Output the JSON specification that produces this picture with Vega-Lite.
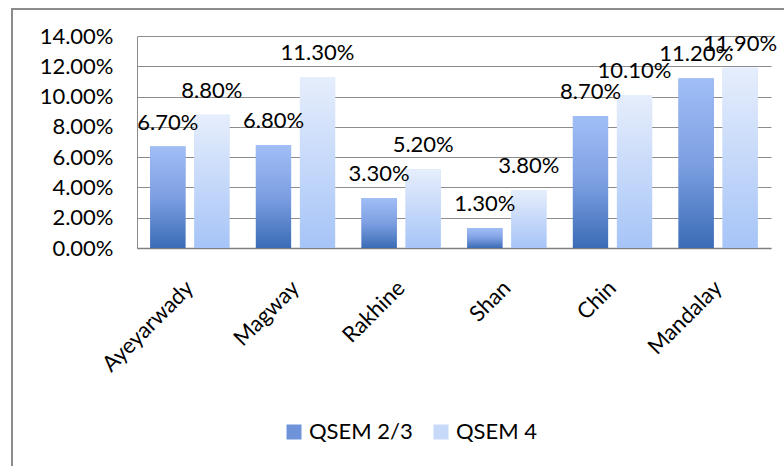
{
  "$schema": "https://vega.github.io/schema/vega-lite/v6.json",
  "width": 774,
  "height": 460,
  "autosize": {"type": "none"},
  "padding": {"left": 12, "top": 9, "right": 0, "bottom": 0},
  "background": "white",
  "config": {
    "view": {"stroke": "#8c8c8c", "strokeWidth": 2},
    "font": "Lato",
    "axis": {"labelFont": "Lato", "labelColor": "#000000", "labelFontSize": 22, "title": null},
    "legend": {"labelFont": "Lato", "labelFontSize": 22, "labelColor": "#000000"}
  },
  "data": {
    "values": [
      {"region": "Ayeyarwady", "series": "QSEM 2/3", "value": 0.067},
      {"region": "Ayeyarwady", "series": "QSEM 4", "value": 0.088},
      {"region": "Magway", "series": "QSEM 2/3", "value": 0.068},
      {"region": "Magway", "series": "QSEM 4", "value": 0.113},
      {"region": "Rakhine", "series": "QSEM 2/3", "value": 0.033},
      {"region": "Rakhine", "series": "QSEM 4", "value": 0.052},
      {"region": "Shan", "series": "QSEM 2/3", "value": 0.013},
      {"region": "Shan", "series": "QSEM 4", "value": 0.038},
      {"region": "Chin", "series": "QSEM 2/3", "value": 0.087},
      {"region": "Chin", "series": "QSEM 4", "value": 0.101},
      {"region": "Mandalay", "series": "QSEM 2/3", "value": 0.112},
      {"region": "Mandalay", "series": "QSEM 4", "value": 0.119}
    ]
  },
  "encoding": {
    "x": {"field": "region", "type": "nominal", "sort": null,
      "scale": {"range": [125, 759], "paddingInner": 0.25, "paddingOuter": 0.125},
      "axis": {"orient": "bottom", "labelAngle": -45, "labelAlign": "right", "labelBaseline": "top", "labelPadding": 29, "labelOffset": -7, "ticks": false, "tickSize": 0, "grid": false, "domain": true, "domainColor": "#808080", "domainWidth": 1.5, "offset": -221, "title": null}},
    "xOffset": {"field": "series", "type": "nominal", "scale": {"domain": ["QSEM 2/3", "QSEM 4"], "paddingInner": 0.2, "paddingOuter": 0}},
    "y": {"field": "value", "type": "quantitative",
      "scale": {"domain": [0, 0.14], "range": [239, 27], "nice": false, "zero": true},
      "axis": {"values": [0, 0.02, 0.04, 0.06, 0.08, 0.1, 0.12, 0.14], "format": ".2%", "offset": -125, "grid": true, "gridColor": "#8c8c8c", "gridWidth": 1, "domain": true, "domainColor": "#8c8c8c", "ticks": false, "tickSize": 0, "labelPadding": 24, "title": null}}
  },
  "layer": [
    {
      "mark": {"type": "bar"},
      "encoding": {
        "color": {"field": "series", "type": "nominal",
          "scale": {"domain": ["QSEM 2/3", "QSEM 4"], "range": ["#6f93d8", "#c6d9f8"]},
          "legend": {"orient": "none", "direction": "horizontal", "legendX": 271, "legendY": 412, "title": null, "symbolType": "square", "symbolSize": 225, "symbolStrokeWidth": 0, "labelOffset": 4, "columnPadding": 17}}
      }
    },
    {
      "transform": [{"filter": "datum.series === 'QSEM 2/3'"}],
      "mark": {"type": "bar", "fill": {"gradient": "linear", "x1": 0, "y1": 0, "x2": 0, "y2": 1, "stops": [{"offset": 0, "color": "#a1bef6"}, {"offset": 0.5, "color": "#7d9fe2"}, {"offset": 1, "color": "#3a6cb5"}]}}
    },
    {
      "transform": [{"filter": "datum.series === 'QSEM 4'"}],
      "mark": {"type": "bar", "fill": {"gradient": "linear", "x1": 0, "y1": 0, "x2": 0, "y2": 1, "stops": [{"offset": 0, "color": "#e6eefc"}, {"offset": 1, "color": "#a6c4f7"}]}}
    },
    {
      "mark": {"type": "text", "dy": -24, "fontSize": 22, "font": "Lato", "baseline": "middle", "color": "#000000"},
      "encoding": {
        "text": {"field": "value", "type": "quantitative", "format": ".2%"}
      }
    }
  ]
}
